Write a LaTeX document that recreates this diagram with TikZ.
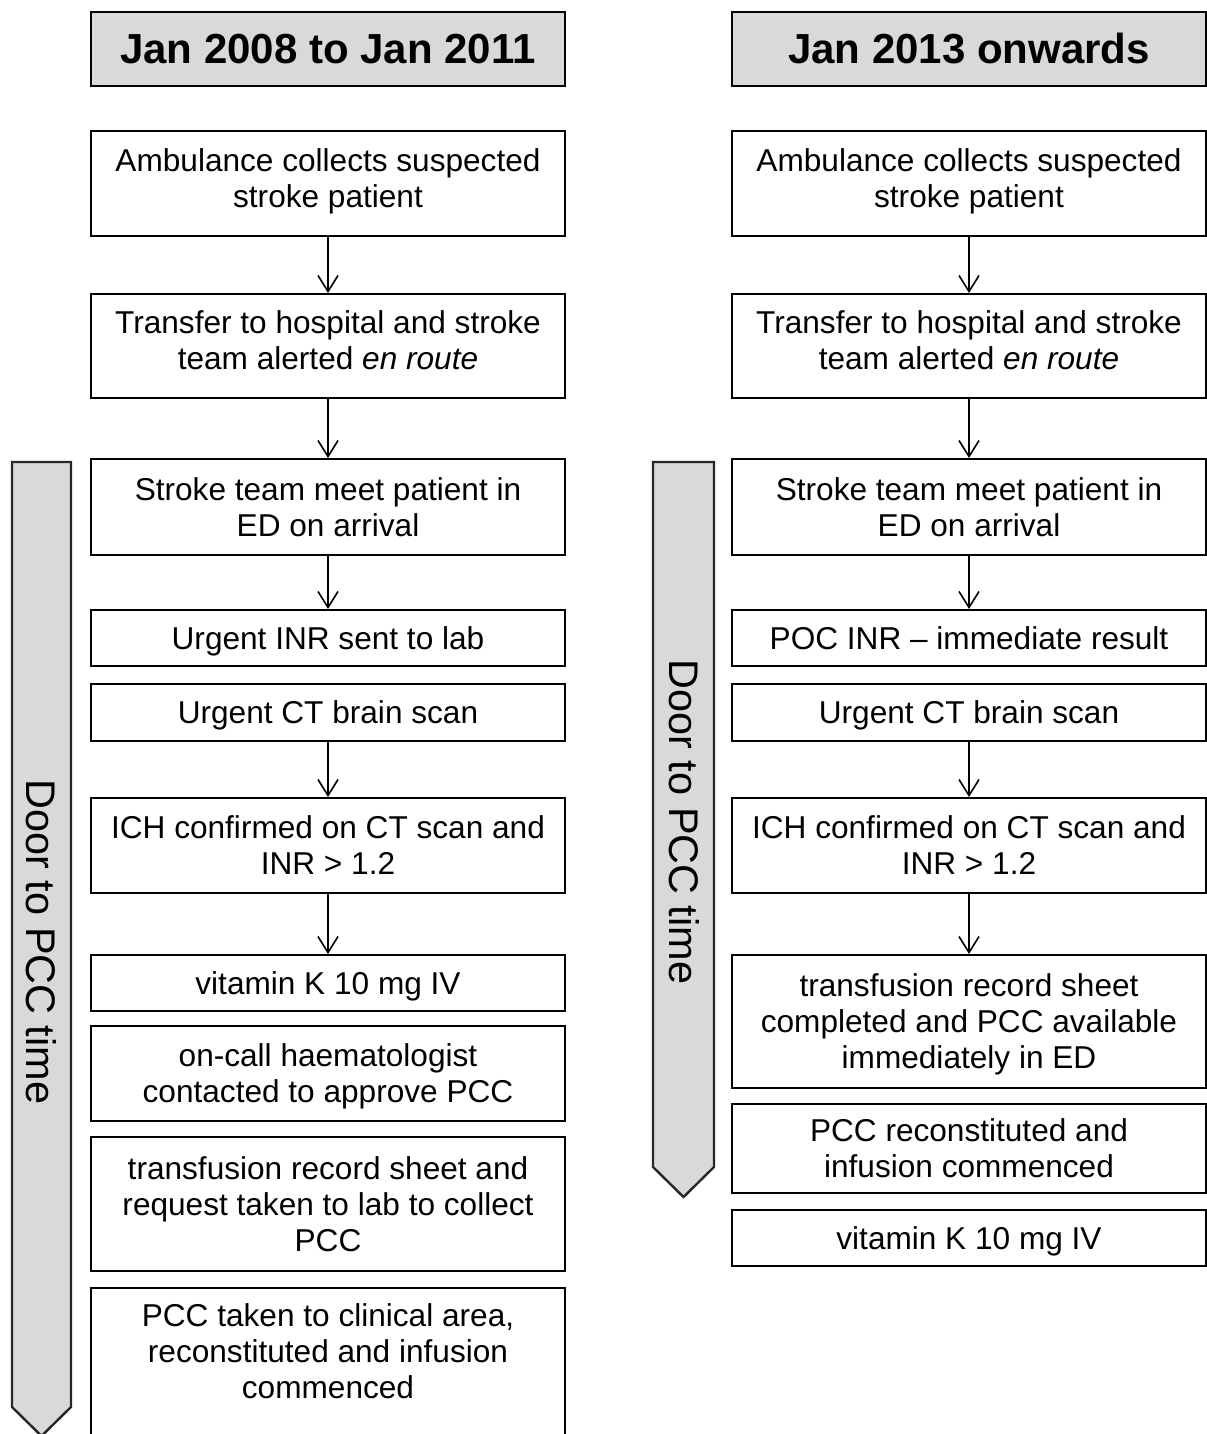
\documentclass[tikz,border=0pt]{standalone}
\usepackage{fontspec}
\setmainfont{Liberation Sans}
\usetikzlibrary{arrows.meta}

% struts for the first and the last line, centred on the capitals
\newcommand\topstr{\rule{0pt}{14.96pt}}
\newcommand\botstr{\rule[-3.5pt]{0pt}{3.5pt}}
\newcommand\lowstr{\rule[-9pt]{0pt}{9pt}}

\begin{document}
\begin{tikzpicture}[x=0.5pt,y=-0.5pt,
  box/.style={draw,line width=1pt,minimum width=237pt,align=center,inner sep=2pt,font=\fontsize{15.8}{18}\selectfont},
  head/.style={box,fill=black!15,minimum height=37pt,font=\fontsize{21}{24}\selectfont\bfseries},
  side/.style={draw=black!85,line width=1.2pt,fill=black!15},
  sidetext/.style={rotate=-90,font=\fontsize{20.7}{24}\selectfont},
  flow/.style={line width=0.8pt,-{Straight Barb[length=8pt,width=10pt]}}]

\useasboundingbox (0,0) rectangle (1206,1434);

% door to PCC time
\coordinate (LA) at (12,462);
\coordinate (LB) at (71,462);
\coordinate (RA) at (653,462);
\coordinate (RB) at (714,462);
\draw[side] (LA) -- (LB) -- (71,1407) -- (41.5,1436) -- (12,1407) -- cycle;
\draw[side] (RA) -- (RB) -- (714,1167) -- (683.5,1197) -- (653,1167) -- cycle;
\node[sidetext] (sideL) at (41,942) {Door to PCC time};
\node[sidetext] (sideR) at (684,822) {Door to PCC time};

\node[head] (hL) at (328,49) {Jan 2008 to Jan 2011};
\node[head] (hR) at (969,49) {Jan 2013 onwards};

% left column
\node[box,minimum height=52.5pt] (l1) at (328,183.5) {\topstr Ambulance collects suspected\\stroke patient\lowstr};
\node[box,minimum height=52pt] (l2) at (328,346) {\topstr Transfer to hospital and stroke\\team alerted \emph{en route}\lowstr};
\node[box,minimum height=48pt] (l3) at (328,507) {\topstr Stroke team meet patient in\\ED on arrival\botstr};
\node[box,minimum height=28pt] (l4) at (328,638) {\topstr Urgent INR sent to lab\botstr};
\node[box,minimum height=28.5pt] (l5) at (328,712.5) {\topstr Urgent CT brain scan\botstr};
\node[box,minimum height=47.5pt] (l6) at (328,845.5) {\topstr ICH confirmed on CT scan and\\INR > 1.2\botstr};
\node[box,minimum height=28pt] (l7) at (328,983) {\topstr vitamin K 10 mg IV\botstr};
\node[box,minimum height=47.5pt] (l8) at (328,1073.5) {\topstr on-call haematologist\\contacted to approve PCC\botstr};
\node[box,minimum height=67pt] (l9) at (328,1204) {\topstr transfusion record sheet and\\request taken to lab to collect\\PCC\botstr};
\node[box,anchor=north,inner ysep=4.2pt,text depth=60pt] (l10) at (328,1287) {\topstr PCC taken to clinical area,\\reconstituted and infusion\\commenced};

% right column
\node[box,minimum height=52.5pt] (r1) at (969,183.5) {\topstr Ambulance collects suspected\\stroke patient\lowstr};
\node[box,minimum height=52pt] (r2) at (969,346) {\topstr Transfer to hospital and stroke\\team alerted \emph{en route}\lowstr};
\node[box,minimum height=48pt] (r3) at (969,507) {\topstr Stroke team meet patient in\\ED on arrival\botstr};
\node[box,minimum height=28pt] (r4) at (969,638) {\topstr POC INR -- immediate result\botstr};
\node[box,minimum height=28.5pt] (r5) at (969,712.5) {\topstr Urgent CT brain scan\botstr};
\node[box,minimum height=47.5pt] (r6) at (969,845.5) {\topstr ICH confirmed on CT scan and\\INR > 1.2\botstr};
\node[box,minimum height=66.5pt] (r7) at (969,1021.5) {\topstr transfusion record sheet\\completed and PCC available\\immediately in ED\botstr};
\node[box,minimum height=44.5pt] (r8) at (969,1148.5) {\topstr PCC reconstituted and\\infusion commenced\botstr};
\node[box,minimum height=28pt] (r9) at (969,1238) {\topstr vitamin K 10 mg IV\botstr};

\foreach \a/\b in {l1/l2,l2/l3,l3/l4,l5/l6,l6/l7,r1/r2,r2/r3,r3/r4,r5/r6,r6/r7}
  \draw[flow] (\a) -- (\b);

\end{tikzpicture}
\end{document}
